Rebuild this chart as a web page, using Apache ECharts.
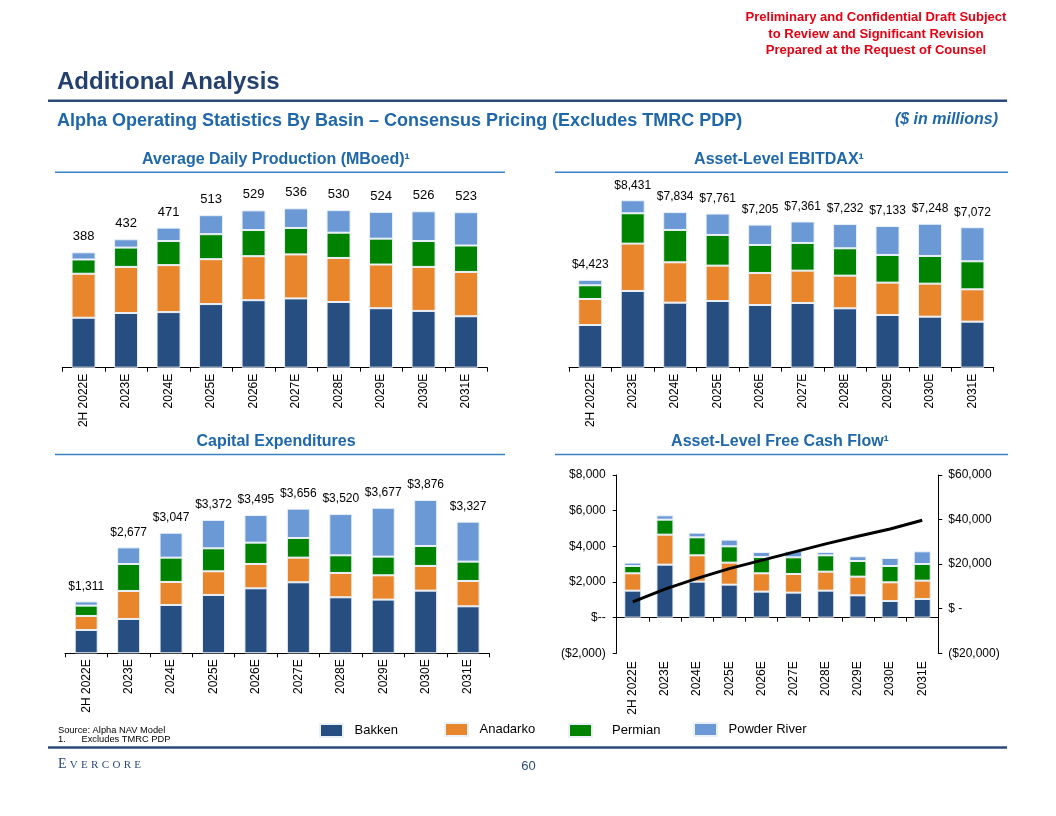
<!DOCTYPE html>
<html>
<head>
<meta charset="utf-8">
<script src="https://cdn.jsdelivr.net/npm/echarts@6/dist/echarts.min.js"></script>
<style>
html,body{margin:0;padding:0;background:#ffffff;}
#c{width:1056px;height:816px;}
</style>
</head>
<body>
<div id="c"></div>
<script>
// ---------- DATA ----------
const categories = ['2H 2022E','2023E','2024E','2025E','2026E','2027E','2028E','2029E','2030E','2031E'];
const basins = ['Bakken','Anadarko','Permian','Powder River'];

// Average Daily Production (MBoed)
const prodBakken   = [168,184,187,214,227,233,221,200,191,173];
const prodAnadarko = [148,155,158,151,148,148,148,147,148,149];
const prodPermian  = [48,65,81,84,88,89,85,87,87,89];
const prodPowder   = [24,28,45,64,66,66,76,90,100,112];
const prodTotals   = [388,432,471,513,529,536,530,524,526,523];

// Asset-Level EBITDAX ($mm)
const ebitBakken   = [2150,3863,3275,3359,3157,3258,2990,2654,2570,2318];
const ebitAnadarko = [1310,2385,2032,1780,1613,1629,1645,1629,1662,1629];
const ebitPermian  = [690,1528,1629,1545,1411,1394,1378,1394,1394,1411];
const ebitPowder   = [273,655,898,1077,1024,1080,1219,1456,1622,1714];
const ebitTotals   = [4423,8431,7834,7761,7205,7361,7232,7133,7248,7072];

// Capital Expenditures ($mm)
const capexBakken   = [590,868,1222,1475,1643,1795,1416,1357,1584,1188];
const capexAnadarko = [354,708,581,598,615,623,615,615,624,640];
const capexPermian  = [261,682,615,581,539,497,446,472,505,489];
const capexPowder   = [106,419,629,718,698,741,1043,1233,1163,1010];
const capexTotals   = [1311,2677,3047,3372,3495,3656,3520,3677,3876,3327];

// Asset-Level Free Cash Flow ($mm)
const fcfBakken   = [1514,2972,2019,1850,1458,1402,1514,1252,935,1047];
const fcfAnadarko = [972,1682,1476,1234,1028,1046,1065,1047,1046,1028];
const fcfPermian  = [411,841,1009,916,916,935,916,878,916,934];
const fcfPowder   = [187,243,262,374,280,355,187,262,449,710];
const fcfCumulative = [3100,8800,13600,18000,21700,25400,29100,32500,35800,39700];

// ---------- STYLE ----------
const FONT = "'Liberation Sans', Arial, Helvetica, sans-serif";
const SERIF = "'Liberation Serif', 'Times New Roman', serif";
const colors = {'Bakken':'#264E81','Anadarko':'#E9852A','Permian':'#008300','Powder River':'#6A99D6'};
const NAVY = '#24406F';
const BLUE = '#1E67AC';

function money(v){ return '$' + v.toLocaleString('en-US'); }

function stackSeries(idx, arrays, totals, fmt, fontSize, barWidth){
  return basins.map((b, i) => {
    const s = {
      name: b, type: 'bar', stack: 'g' + idx,
      xAxisIndex: idx, yAxisIndex: idx,
      barWidth: barWidth,
      data: arrays[i],
      itemStyle: {color: colors[b], borderColor: '#eaf0f7', borderWidth: 1},
      emphasis: {disabled: true},
      animation: false
    };
    if (i === 3 && totals) {
      s.label = {
        show: true, position: 'top', distance: 9,
        fontFamily: FONT, fontSize: fontSize, color: '#000',
        formatter: p => fmt(totals[p.dataIndex])
      };
    }
    return s;
  });
}

function catAxis(gridIndex){
  return {
    type: 'category', gridIndex: gridIndex, data: categories,
    axisLine: {lineStyle: {color: '#000', width: 1}},
    axisTick: {show: true, length: 4, interval: 0, lineStyle: {color: '#000'}},
    axisLabel: {rotate: 90, interval: 0, fontFamily: FONT, fontSize: 12, color: '#000', margin: 6}
  };
}

const grids = [
  {left: 62.3, top: 189.3, width: 425, height: 178.4},
  {left: 569, top: 169.1, width: 424.7, height: 198.6},
  {left: 65, top: 455.5, width: 424.3, height: 197.8},
  {left: 616.7, top: 475, width: 321.6, height: 178.3}
];

const xAxes = [
  catAxis(0), catAxis(1), catAxis(2),
  {
    type: 'category', gridIndex: 3, data: categories, position: 'bottom',
    axisLine: {onZero: true, onZeroAxisIndex: 3, lineStyle: {color: '#000', width: 1}},
    axisTick: {show: true, length: 4, interval: 0, lineStyle: {color: '#000'}},
    axisLabel: {show: false, interval: 0}
  },
  {
    type: 'category', gridIndex: 3, data: categories, position: 'bottom',
    axisLine: {show: false, onZero: false}, axisTick: {show: false},
    axisLabel: {rotate: 90, interval: 0, fontFamily: FONT, fontSize: 12, color: '#000', margin: 8}
  }
];

const yAxes = [
  {type: 'value', gridIndex: 0, min: 0, max: 600, show: false},
  {type: 'value', gridIndex: 1, min: 0, max: 10000, show: false},
  {type: 'value', gridIndex: 2, min: 0, max: 5000, show: false},
  {
    type: 'value', gridIndex: 3, position: 'left', min: -2000, max: 8000, interval: 2000,
    axisLine: {show: true, lineStyle: {color: '#000', width: 1}},
    axisTick: {show: true, length: 4, lineStyle: {color: '#000'}},
    splitLine: {show: false},
    axisLabel: {fontFamily: FONT, fontSize: 12, color: '#000', margin: 11,
      formatter: v => v === 0 ? '$--' : (v < 0 ? '(' + money(-v) + ')' : money(v))}
  },
  {
    type: 'value', gridIndex: 3, position: 'right', min: -20000, max: 60000, interval: 20000,
    axisLine: {show: true, lineStyle: {color: '#000', width: 1}},
    axisTick: {show: true, length: 4, lineStyle: {color: '#000'}},
    splitLine: {show: false},
    axisLabel: {fontFamily: FONT, fontSize: 12, color: '#000', margin: 10,
      formatter: v => v === 0 ? '$ -' : (v < 0 ? '(' + money(-v) + ')' : money(v))}
  }
];

const series = [].concat(
  stackSeries(0, [prodBakken, prodAnadarko, prodPermian, prodPowder], prodTotals, v => String(v), 13, 24),
  stackSeries(1, [ebitBakken, ebitAnadarko, ebitPermian, ebitPowder], ebitTotals, money, 12, 24),
  stackSeries(2, [capexBakken, capexAnadarko, capexPermian, capexPowder], capexTotals, money, 12, 23),
  basins.map((b, i) => ({
    name: b, type: 'bar', stack: 'g3', xAxisIndex: 3, yAxisIndex: 3, barWidth: 17,
    data: [fcfBakken, fcfAnadarko, fcfPermian, fcfPowder][i],
    itemStyle: {color: colors[b], borderColor: '#eaf0f7', borderWidth: 1},
    emphasis: {disabled: true}, animation: false
  })),
  [{
    name: 'Cumulative FCF', type: 'line', xAxisIndex: 3, yAxisIndex: 4,
    data: fcfCumulative, showSymbol: false, symbol: 'none',
    lineStyle: {color: '#000', width: 3}, itemStyle: {color: '#000'},
    emphasis: {disabled: true}, animation: false, z: 5
  }]
);

const legendX = [319, 444, 568, 693];
const legendTop = [723, 722, 723, 722];
const legendPad = [6.5, 6.5, 15, 6.5];
const legends = basins.map((b, i) => ({
  data: [b], left: legendX[i], top: legendTop[i], padding: 0, orient: 'horizontal',
  itemWidth: 23, itemHeight: 13, icon: 'rect', selectedMode: false,
  textStyle: {fontFamily: FONT, fontSize: 13, color: '#000', padding: [0, 0, 0, legendPad[i]]}
}));

function txt(x, y, text, font, fill, align){
  return {type: 'text', x: x, y: y, silent: true,
    style: {text: text, font: font, fill: fill, align: align || 'left', verticalAlign: 'middle'}};
}
function hline(x1, x2, y, color, w){
  return {type: 'line', silent: true, shape: {x1: x1, y1: y, x2: x2, y2: y},
    style: {stroke: color, lineWidth: w}};
}

const RED = '#E60012';
const graphics = [
  txt(876, 17.5, 'Preliminary and Confidential Draft Subject', "bold 13px " + FONT, RED, 'center'),
  txt(876, 34, 'to Review and Significant Revision', "bold 13px " + FONT, RED, 'center'),
  txt(876, 50.5, 'Prepared at the Request of Counsel', "bold 13px " + FONT, RED, 'center'),
  txt(57, 82, 'Additional Analysis', "bold 24px " + FONT, NAVY, 'left'),
  hline(48, 1007, 100.7, '#2B4A7A', 2.5),
  txt(57, 121.5, 'Alpha Operating Statistics By Basin \u2013 Consensus Pricing (Excludes TMRC PDP)', "bold 18px " + FONT, BLUE, 'left'),
  txt(998, 119.5, '($ in millions)', "italic bold 16px " + FONT, BLUE, 'right'),
  txt(276, 159.5, 'Average Daily Production (MBoed)\u00B9', "bold 16px " + FONT, BLUE, 'center'),
  txt(779, 159.5, 'Asset-Level EBITDAX\u00B9', "bold 16px " + FONT, BLUE, 'center'),
  txt(276, 442, 'Capital Expenditures', "bold 16px " + FONT, BLUE, 'center'),
  txt(780, 442, 'Asset-Level Free Cash Flow\u00B9', "bold 16px " + FONT, BLUE, 'center'),
  hline(55, 505, 172.3, '#3B82C4', 1.5),
  hline(555, 1008, 172.3, '#3B82C4', 1.5),
  hline(55, 505, 454.5, '#3B82C4', 1.5),
  hline(555, 1008, 454.5, '#3B82C4', 1.5),
  txt(58, 730, 'Source: Alpha NAV Model', "9.3px " + FONT, '#000', 'left'),
  txt(58, 739.5, '1.', "9.3px " + FONT, '#000', 'left'),
  txt(81.5, 739.5, 'Excludes TMRC PDP', "9.3px " + FONT, '#000', 'left'),
  hline(48, 1007, 747.5, '#2B4A7A', 2.5),
  {
    type: 'text', x: 58, y: 771, silent: true,
    style: {
      text: '{a|E}{b|V}{b|E}{b|R}{b|C}{b|O}{b|R}{c|E}',
      verticalAlign: 'bottom', align: 'left',
      rich: {
        a: {font: "14px " + SERIF, fill: '#2B4A7A', padding: [0, 3.3, 0, 0], verticalAlign: 'bottom'},
        b: {font: "11px " + SERIF, fill: '#2B4A7A', padding: [0, 3.3, 0, 0], verticalAlign: 'bottom'},
        c: {font: "11px " + SERIF, fill: '#2B4A7A', verticalAlign: 'bottom'}
      }
    }
  },
  txt(528.5, 766.5, '60', "13px " + FONT, '#2B4A7A', 'center')
];

const chart = echarts.init(document.getElementById('c'), null, {renderer: 'canvas'});
chart.setOption({
  animation: false,
  backgroundColor: '#ffffff',
  textStyle: {fontFamily: FONT},
  grid: grids,
  xAxis: xAxes,
  yAxis: yAxes,
  legend: legends,
  series: series,
  graphic: graphics
});
</script>
</body>
</html>
